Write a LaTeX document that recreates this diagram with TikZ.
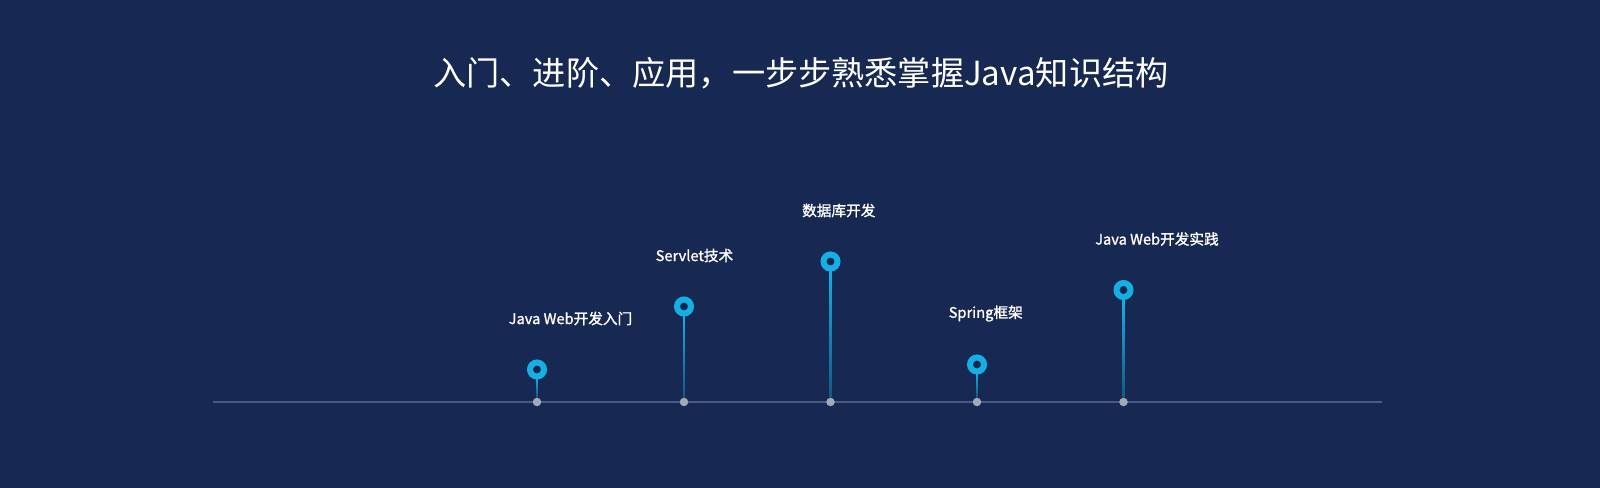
\documentclass[tikz,border=0pt]{standalone}
\usepackage{fontspec}
\setmainfont{Noto Sans CJK SC}
\newfontfamily\labfont[FakeBold=1.2]{Noto Sans CJK SC}
\usetikzlibrary{calc}
\definecolor{bg}{HTML}{172852}
\definecolor{pincol}{HTML}{10B2E6}
\definecolor{axis}{HTML}{4A5A80}
\definecolor{dotcol}{HTML}{A3A9B8}
\tikzset{
  pin/.style={circle, draw=pincol, fill=bg!90!black, line width=6bp, minimum size=14bp, inner sep=0pt},
  dot/.style={circle, fill=dotcol, minimum size=8.5bp, inner sep=0pt},
  lab/.style={anchor=west, text=white, font=\labfont\fontsize{14.7}{16}\selectfont, inner sep=0pt},
  ttl/.style={text=white, font=\fontsize{33.3}{36}\selectfont, inner sep=0pt}
}
\begin{document}
\begin{tikzpicture}[x=1bp, y=-1bp]
\fill[bg] (0,0) rectangle (1600,488);
\node[ttl] (title) at (801,73) {入门、进阶、应用，一步步熟悉掌握Java知识结构};
\coordinate (axl) at (213,402);
\coordinate (axr) at (1382,402);
\draw[axis, line width=1.2bp] (axl) -- (axr);
\foreach \i/\x/\y/\t in {1/537/369.5/{Java Web开发入门}, 2/684/306.5/{Servlet技术}, 3/830.5/261.5/{数据库开发}, 4/977/364.5/{Spring框架}, 5/1123.5/290/{Java Web开发实践}} {
  \node[dot] (d\i) at (\x,402) {};
  \shade[top color=pincol, bottom color=pincol!35!bg] ($(\x,\y)+(-0.9,8)$) rectangle ($(d\i.north)+(0.9,0)$);
  \node[pin] (p\i) at (\x,\y) {};
  \node[lab] (l\i) at (\x-28.5,\y-51) {\t};
}
\pgfresetboundingbox
\useasboundingbox (0,0) rectangle (1600,488);
\end{tikzpicture}
\end{document}
